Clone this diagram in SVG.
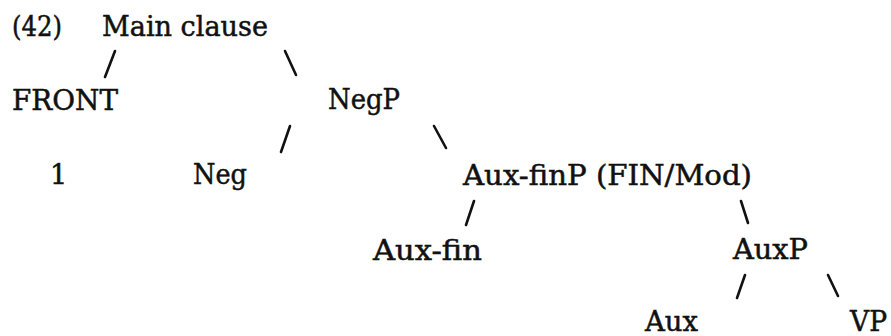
<svg xmlns="http://www.w3.org/2000/svg" width="891" height="336" viewBox="0 0 891 336">
<style>
text{font-family:"DejaVu Serif","Liberation Serif",serif;font-size:27px;fill:#111;stroke:#111;stroke-width:0.5;}
.c line{stroke:#111;stroke-width:2.6;stroke-linecap:round;}
</style>
<rect width="891" height="336" fill="#fff"/>
<g id="label42"><text x="12" y="36" textLength="50" lengthAdjust="spacingAndGlyphs">(42)</text></g>
<g id="mainclause"><text x="102" y="36" textLength="166" lengthAdjust="spacingAndGlyphs">Main clause</text></g>
<g id="front"><text x="12" y="110" textLength="106" lengthAdjust="spacingAndGlyphs">FRONT</text></g>
<g id="negp"><text x="328" y="109" textLength="72" lengthAdjust="spacingAndGlyphs">NegP</text></g>
<g id="one"><text x="50" y="184">1</text></g>
<g id="neg"><text x="193" y="184" textLength="54" lengthAdjust="spacingAndGlyphs">Neg</text></g>
<g id="auxfinp"><text x="463" y="185" textLength="289" lengthAdjust="spacingAndGlyphs">Aux-finP (FIN/Mod)</text></g>
<g id="auxfin"><text x="373" y="260" textLength="109" lengthAdjust="spacingAndGlyphs">Aux-fin</text></g>
<g id="auxp"><text x="733" y="259" textLength="75" lengthAdjust="spacingAndGlyphs">AuxP</text></g>
<g id="aux"><text x="645" y="331" textLength="53" lengthAdjust="spacingAndGlyphs">Aux</text></g>
<g id="vp"><text x="850" y="331" textLength="37" lengthAdjust="spacingAndGlyphs">VP</text></g>
<g id="connectors" class="c">
<line x1="115" y1="51" x2="105" y2="77"/>
<line x1="285" y1="51" x2="296" y2="75"/>
<line x1="290" y1="126" x2="281" y2="152"/>
<line x1="434" y1="126" x2="446" y2="148"/>
<line x1="474" y1="201" x2="466" y2="225"/>
<line x1="741" y1="201" x2="748" y2="223"/>
<line x1="745" y1="275" x2="737" y2="298"/>
<line x1="828" y1="275" x2="838" y2="296"/>
</g>
</svg>
